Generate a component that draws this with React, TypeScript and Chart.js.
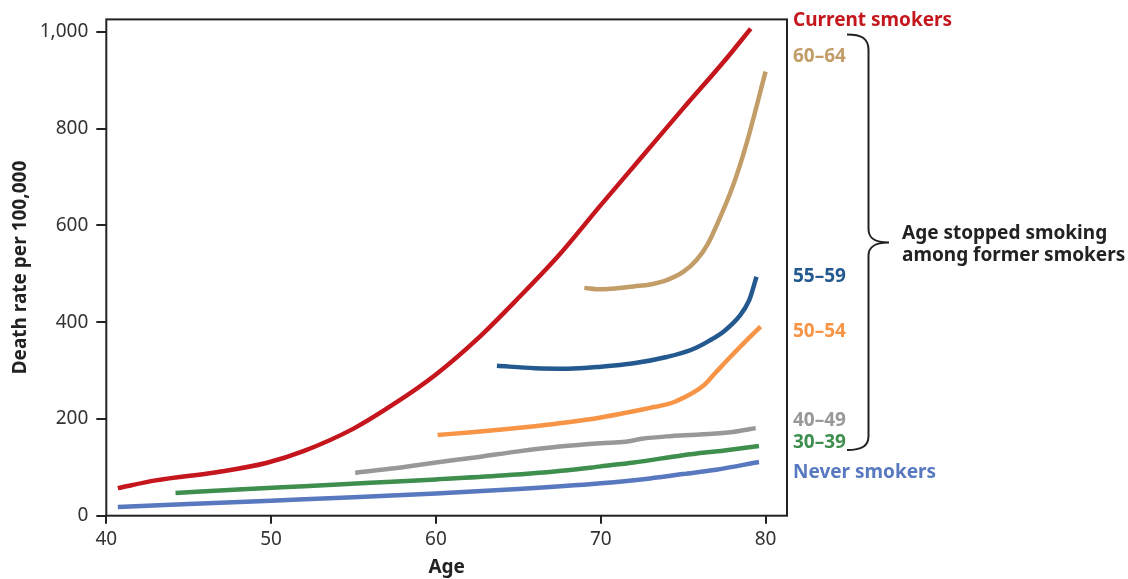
import React, { useEffect, useRef } from 'react';
import { Chart, registerables } from 'chart.js';

Chart.register(...registerables);

// ---- Data (age in years, death rate per 100,000) ----
const currentAges = [40.7, 43, 46.7, 49.7, 52, 55, 57.5, 60, 62.5, 65, 67.5, 70, 72.5, 75, 77.5, 79.1];
const currentRates = [57, 73, 90, 109, 134, 180, 232, 292, 365, 450, 540, 642, 742, 842, 940, 1007];

const q6064Ages = [69, 70, 71, 72, 73, 74, 75, 75.8, 76.5, 77, 78, 78.8, 80];
const q6064Rates = [471, 468, 470, 474, 478, 487, 504, 528, 562, 598, 680, 764, 918];

const q5559Ages = [63.7, 66, 68, 70, 72, 74, 75.5, 76.6, 77.5, 78.4, 79, 79.45];
const q5559Rates = [310, 305, 304, 308, 315, 328, 343, 362, 382, 412, 445, 494];

const q5054Ages = [60.1, 62, 64, 66, 68, 70, 72, 73, 74, 74.6, 76.2, 77, 77.8, 78.8, 79.7];
const q5054Rates = [167, 172, 178, 185, 193, 203, 216, 223, 230, 237, 268, 297, 326, 361, 391];

const q4049Ages = [55.1, 57.5, 60, 62.5, 65, 67.5, 70, 71.5, 72.5, 74, 76, 78, 79.4];
const q4049Rates = [89, 98, 110, 121, 133, 143, 150, 153, 159, 164, 168, 173, 181];

const q3039Ages = [44.2, 48, 52, 56, 60, 64, 68, 70, 72, 75, 77.5, 79.6];
const q3039Rates = [47, 54, 61, 68, 75, 83, 94, 102, 110, 125, 135, 144];

const neverAges = [40.7, 45, 50, 55, 60, 65, 70, 73, 75, 77, 79.6];
const neverRates = [18, 24, 31, 38, 46, 55, 67, 77, 86, 95, 111];

const seriesNames = ['Current smokers', '60–64', '55–59', '50–54', '40–49', '30–39', 'Never smokers'];
const seriesColors = ['#c5161d', '#c29d68', '#24598f', '#f79446', '#98989b', '#3e8e4e', '#5878c0'];
const seriesAges = [currentAges, q6064Ages, q5559Ages, q5054Ages, q4049Ages, q3039Ages, neverAges];
const seriesRates = [currentRates, q6064Rates, q5559Rates, q5054Rates, q4049Rates, q3039Rates, neverRates];

const xTicks = [40, 50, 60, 70, 80];
const yTicks = [0, 200, 400, 600, 800, 1000];

const xTitle = 'Age';
const yTitle = 'Death rate per 100,000';
const braceText = ['Age stopped smoking', 'among former smokers'];

const FONT = '"Noto Sans", "DejaVu Sans", sans-serif';

// label baselines (right-side annotations)
const labelBaselines = [26, 62, 282, 337, 426, 448, 478];

const overlay = {
  id: 'overlay',
  afterDraw(chart: any) {
    const { ctx, chartArea: a } = chart;
    ctx.save();
    ctx.strokeStyle = '#222';
    ctx.lineWidth = 2;
    ctx.strokeRect(a.left, a.top, a.right - a.left, a.bottom - a.top);

    ctx.font = `bold 19px ${FONT}`;
    ctx.textBaseline = 'alphabetic';
    ctx.textAlign = 'left';
    seriesNames.forEach((name, i) => {
      ctx.fillStyle = seriesColors[i];
      ctx.fillText(name, 793, labelBaselines[i]);
    });

    ctx.fillStyle = '#222';
    ctx.fillText(braceText[0], 902, 239);
    ctx.fillText(braceText[1], 902, 261);

    // brace
    ctx.beginPath();
    ctx.lineWidth = 2;
    ctx.strokeStyle = '#222';
    ctx.moveTo(847, 34.5);
    ctx.bezierCurveTo(861, 34.5, 868.5, 38, 868.5, 50);
    ctx.lineTo(868.5, 229);
    ctx.bezierCurveTo(868.5, 238, 874, 242.5, 889, 242.5);
    ctx.bezierCurveTo(874, 242.5, 868.5, 247, 868.5, 256);
    ctx.lineTo(868.5, 436);
    ctx.bezierCurveTo(868.5, 446, 862, 450, 847, 450);
    ctx.stroke();
    ctx.restore();
  },
};

export default function App() {
  const ref = useRef<HTMLCanvasElement | null>(null);

  useEffect(() => {
    if (!ref.current) return;
    const datasets = seriesNames.map((name, i) => ({
      label: name,
      data: seriesAges[i].map((x, j) => ({ x, y: seriesRates[i][j] })),
      borderColor: seriesColors[i],
      backgroundColor: seriesColors[i],
      borderWidth: 4.5,
      pointRadius: 0,
      cubicInterpolationMode: 'monotone' as const,
      fill: false,
    }));
    const chart = new Chart(ref.current, {
      type: 'line',
      data: { datasets },
      options: {
        responsive: false,
        animation: false,
        layout: { padding: { left: 0, right: 341, top: 15.7, bottom: 0 } },
        plugins: { legend: { display: false }, tooltip: { enabled: false } },
        scales: {
          x: {
            type: 'linear',
            min: 40,
            max: 81.3,
            afterFit: (s: any) => { s.height = 63.3; },
            afterBuildTicks: (s: any) => { s.ticks = xTicks.map((v) => ({ value: v })); },
            ticks: {
              maxRotation: 0,
              autoSkip: false,
              padding: 4,
              color: '#333',
              font: { family: FONT, size: 19 },
            },
            grid: { drawOnChartArea: false, drawTicks: true, tickLength: 8, color: '#222', lineWidth: 2 },
            border: { display: false },
            title: {
              display: true,
              text: xTitle,
              color: '#222',
              font: { family: FONT, size: 19, weight: 'bold' },
              padding: { top: 0, bottom: 0 },
            },
          },
          y: {
            type: 'linear',
            min: 0,
            max: 1026,
            afterFit: (s: any) => { s.width = 106.3; },
            afterBuildTicks: (s: any) => { s.ticks = yTicks.map((v) => ({ value: v })); },
            ticks: {
              autoSkip: false,
              padding: 8,
              color: '#333',
              font: { family: FONT, size: 19 },
              callback: (v: any) => Number(v).toLocaleString('en-US'),
            },
            grid: { drawOnChartArea: false, drawTicks: true, tickLength: 10, color: '#222', lineWidth: 2 },
            border: { display: false },
            title: {
              display: true,
              text: yTitle,
              color: '#222',
              font: { family: FONT, size: 19, weight: 'bold' },
              padding: { top: 9, bottom: 0 },
            },
          },
        },
      },
      plugins: [overlay],
    });
    return () => chart.destroy();
  }, []);

  return (
    <div style={{ position: 'absolute', left: 0, top: 0, width: 1128, height: 579, background: '#fff' }}>
      <canvas ref={ref} width={1128} height={579} style={{ display: 'block' }} />
    </div>
  );
}
